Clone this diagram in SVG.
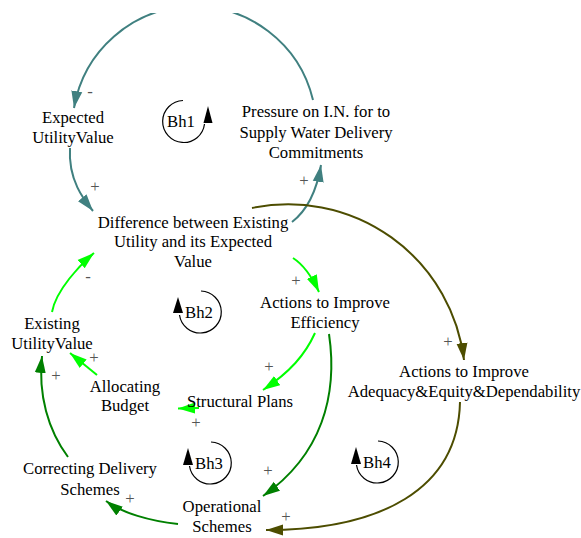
<svg xmlns="http://www.w3.org/2000/svg" width="581" height="538" viewBox="0 0 581 538">
<style>
text{font-family:"Liberation Serif",Tinos,"Times New Roman","DejaVu Serif",serif;font-size:16.7px;fill:#000;text-anchor:middle}
.sg{fill:#555}
.e{fill:none;stroke-width:2}
.teal{stroke:#408080}
.lime{stroke:#00ff00}
.dg{stroke:#008000}
.ol{stroke:#4d4d00}
.loop{fill:none;stroke:#000;stroke-width:1.2}
</style>
<defs>
<clipPath id="clipTop"><rect x="0" y="13" width="581" height="525"/></clipPath>
<marker id="aTeal" markerUnits="userSpaceOnUse" markerWidth="17" markerHeight="12" viewBox="0 0 17 12" refX="17" refY="6" orient="auto"><path d="M0,0.5 L17,6 L0,11.5 z" fill="#408080"/></marker>
<marker id="aLime" markerUnits="userSpaceOnUse" markerWidth="17" markerHeight="12" viewBox="0 0 17 12" refX="17" refY="6" orient="auto"><path d="M0,0.5 L17,6 L0,11.5 z" fill="#00ff00"/></marker>
<marker id="aDg" markerUnits="userSpaceOnUse" markerWidth="17" markerHeight="12" viewBox="0 0 17 12" refX="17" refY="6" orient="auto"><path d="M0,0.5 L17,6 L0,11.5 z" fill="#008000"/></marker>
<marker id="aOl" markerUnits="userSpaceOnUse" markerWidth="17" markerHeight="12" viewBox="0 0 17 12" refX="17" refY="6" orient="auto"><path d="M0,0.5 L17,6 L0,11.5 z" fill="#4d4d00"/></marker>
</defs>
<rect width="581" height="538" fill="#fff"/>

<g id="connectors">
<path class="e teal" clip-path="url(#clipTop)" d="M313,100 A122,122 0 0 0 74,108" marker-end="url(#aTeal)"/>
<path class="e teal" d="M70,148 C68,180 84,200 93,211" marker-end="url(#aTeal)"/>
<path class="e teal" d="M292,222 C305,212 316,195 321,165" marker-end="url(#aTeal)"/>
<path class="e ol" d="M252,208 A177,177 0 0 1 464,360" marker-end="url(#aOl)"/>
<path class="e ol" d="M460,402 C458,490 380,530 266,530" marker-end="url(#aOl)"/>
<path class="e lime" d="M293,258 C304,265 312,277 319,292" marker-end="url(#aLime)"/>
<path class="e lime" d="M315,333 C305,355 290,372 263,390" marker-end="url(#aLime)"/>
<path class="e dg" d="M329,334 C338,395 322,455 263,496" marker-end="url(#aDg)"/>
<path class="e lime" d="M199,408 L178,408.5" marker-end="url(#aLime)"/>
<path class="e lime" d="M52,312 C56,290 80,265 94,253" marker-end="url(#aLime)"/>
<path class="e lime" d="M97,375 L70,353" marker-end="url(#aLime)"/>
<path class="e dg" d="M68,457 C48,430 38,395 42,356" marker-end="url(#aDg)"/>
<path class="e dg" d="M178,524 C150,521 122,513 106,501" marker-end="url(#aDg)"/>
<text class="sg" x="90" y="97">-</text>
<text class="sg" x="95" y="191.5">+</text>
<text class="sg" x="304" y="185.5">+</text>
<text class="sg" x="88" y="282">-</text>
<text class="sg" x="296" y="285.5">+</text>
<text class="sg" x="269" y="371.5">+</text>
<text class="sg" x="448" y="346.5">+</text>
<text class="sg" x="94" y="362.5">+</text>
<text class="sg" x="196" y="427.5">+</text>
<text class="sg" x="56" y="380.5">+</text>
<text class="sg" x="268" y="475.5">+</text>
<text class="sg" x="130" y="503.5">+</text>
<text class="sg" x="286" y="521.5">+</text>
</g>

<g id="expected"><text x="73" y="123">Expected</text><text x="73" y="143">UtilityValue</text></g>
<g id="pressure"><text x="316" y="117">Pressure on I.N. for to</text><text x="316" y="138">Supply Water Delivery</text><text x="316" y="158">Commitments</text></g>
<g id="difference"><text x="193" y="227.5">Difference between Existing</text><text x="193" y="247">Utility and its Expected</text><text x="193" y="266.5">Value</text></g>
<g id="efficiency"><text x="325" y="308">Actions to Improve</text><text x="325" y="328">Efficiency</text></g>
<g id="adequacy"><text x="464" y="377">Actions to Improve</text><text x="464" y="397">Adequacy&amp;Equity&amp;Dependability</text></g>
<g id="existing"><text x="52" y="329">Existing</text><text x="52" y="349">UtilityValue</text></g>
<g id="allocating"><text x="125" y="392">Allocating</text><text x="125" y="411">Budget</text></g>
<g id="structural"><text x="240" y="407">Structural Plans</text></g>
<g id="correcting"><text x="90" y="474">Correcting Delivery</text><text x="90" y="494.5">Schemes</text></g>
<g id="operational"><text x="222" y="512">Operational</text><text x="222" y="532">Schemes</text></g>

<g id="bh1"><path class="loop" d="M183,100.5 A21,21 0 1 0 204.5,124"/><polygon points="208,106 203.5,123 212.5,123"/><text x="181" y="127">Bh1</text></g>
<g id="bh2"><path class="loop" d="M201,291 A21,21 0 1 1 179.5,315"/><polygon points="178,297 173,313 183,313"/><text x="199" y="318">Bh2</text></g>
<g id="bh3"><path class="loop" d="M211,442 A21,21 0 1 1 189.5,466"/><polygon points="188,448 183,465 193,465"/><text x="209" y="469">Bh3</text></g>
<g id="bh4"><path class="loop" d="M378,441 A21,21 0 1 1 356.5,465"/><polygon points="356,447 351,464 361,464"/><text x="377" y="468">Bh4</text></g>
</svg>
